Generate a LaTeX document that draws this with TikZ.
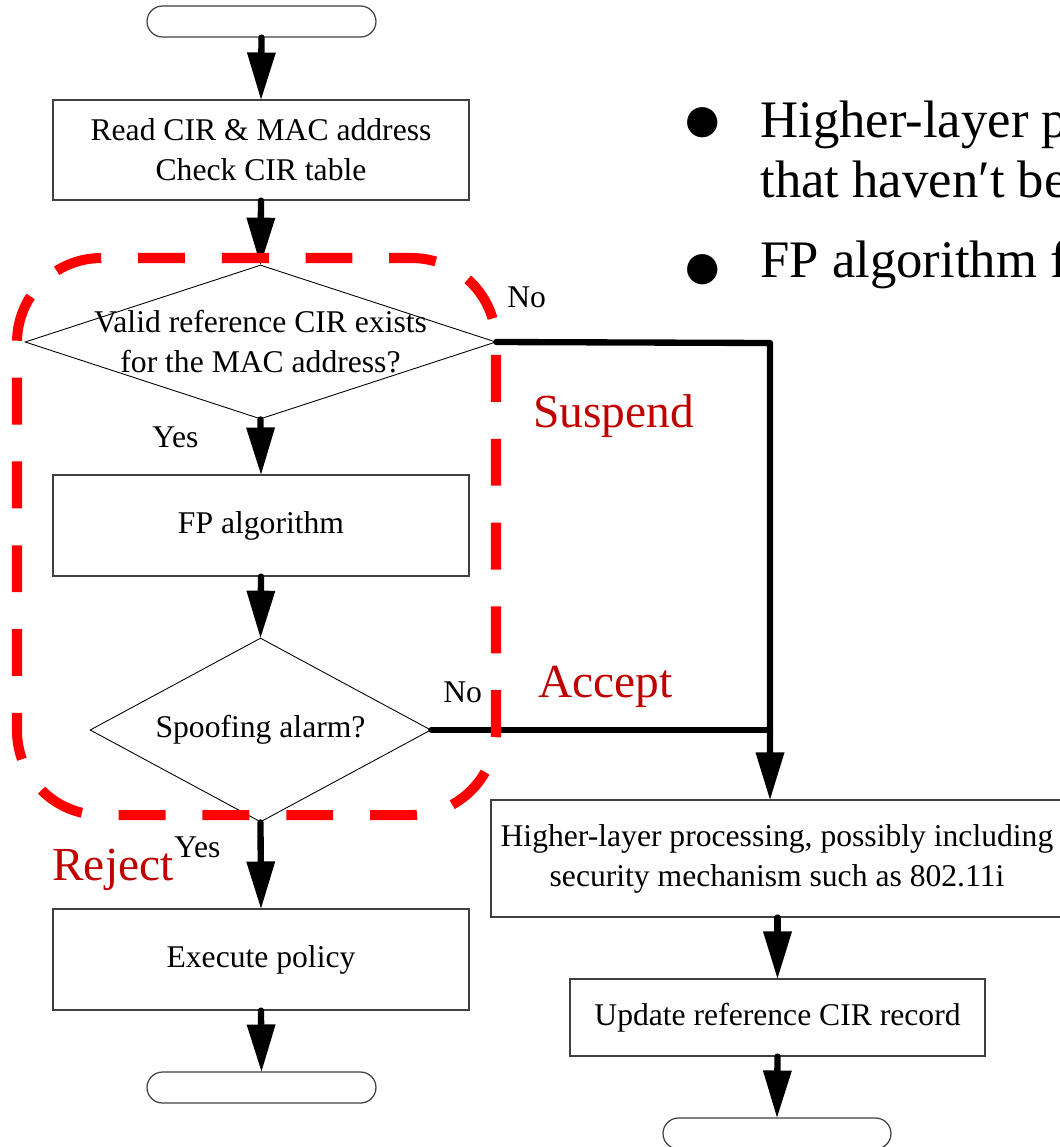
\documentclass[tikz,border=0pt]{standalone}
\usepackage{fontspec}
\setmainfont{Liberation Serif}
\usetikzlibrary{arrows.meta,shapes.geometric}

\definecolor{alertred}{RGB}{192,0,0}
\definecolor{zonered}{RGB}{255,0,0}

\begin{document}
\begin{tikzpicture}[x=0.02cm,y=-0.02cm,
  every node/.style={font=\fontsize{18}{22.8}\selectfont},
  box/.style={draw=black!75, line width=0.7pt, minimum width=8.32cm, minimum height=2.02cm, inner sep=0pt, align=center},
  terminal/.style={draw=black!75, line width=0.7pt, rounded corners=0.31cm, minimum width=4.58cm, minimum height=0.62cm, inner sep=0pt},
  decision/.style={draw=black, line width=0.5pt, diamond, inner sep=0pt},
  flow/.style={line width=3.6pt, line cap=round, line join=round, -{Triangle[length=26.7pt,width=16.5pt,line width=0pt]}},
  link/.style={line width=3.6pt, line cap=round},
  answer/.style={anchor=base west, inner sep=0pt},
  tag/.style={anchor=base west, inner sep=0pt, font=\fontsize{27}{32}\selectfont, text=alertred},
  point/.style={anchor=base west, inner sep=0pt, font=\fontsize{30}{34.1}\selectfont},
  dot/.style={inner sep=0pt, font=\fontsize{40}{40}\selectfont},
  zone/.style={draw=zonered, line width=5.7pt, dash pattern=on 26.7pt off 21pt, dash phase=19.9pt, rounded corners=48pt}
]
% page
\fill[white] (0,0) rectangle (1060,1147);
\useasboundingbox (0,0) rectangle (1060,1147);

% main column
\node[terminal] (start) at (261.5,21.5) {};
\node[box, minimum height=2.0cm] (read) at (261,150) {Read CIR \& MAC address\\Check CIR table};
\node[decision, minimum width=9.42cm, minimum height=3.08cm] (q1) at (260.5,342) {};
\node[align=center, inner sep=0pt] (q1text) at (q1.center) {Valid reference CIR exists\\for the MAC address?};
\node[box] (fp) at (261,525.5) {FP algorithm};
\node[decision, minimum width=6.82cm, minimum height=3.68cm] (q2) at (260.5,730) {};
\node[inner sep=0pt] (q2text) at (q2.center) {Spoofing alarm?};
\node[box] (policy) at (261,959.5) {Execute policy};
\node[terminal] (endL) at (261.5,1087.5) {};

% accept branch
\node[box, minimum width=11.44cm, minimum height=2.34cm] (higher) at (777,858.5)
  {Higher-layer processing, possibly including\\security mechanism such as 802.11i};
\node[box, minimum width=8.3cm, minimum height=1.54cm] (update) at (777.5,1017.5) {Update reference CIR record};
\node[terminal, minimum width=4.56cm] (endR) at (777,1133.5) {};

% connectors
\draw[flow] (start.south) -- (read.north);
\draw[flow] (read.south) -- (q1.north);
\draw[flow] (q1.south) -- (fp.north);
\draw[flow] (fp.south) -- (q2.north);
\draw[flow] (q2.south) -- (policy.north);
\draw[flow] (policy.south) -- (endL.north);
\coordinate (turn) at (770,343);
\draw[flow] (q1.east) -- (turn) -- (turn |- higher.north);
\draw[link] (q2.east) -- (q2.east -| turn);
\draw[flow] (higher.south -| update) -- (update.north);
\draw[flow] (update.south) -- (endR.north);

% branch answers
\node[answer] (no1) at (507,307) {No};
\node[answer] (yes1) at (152,447) {Yes};
\node[answer] (no2) at (443,702) {No};
\node[answer] (yes2) at (174,857) {Yes};

% outcome tags
\node[tag] (suspend) at (533,427) {Suspend};
\node[tag] (accept) at (538,697) {Accept};
\node[tag] (reject) at (52,880) {Reject};

% notes
\node[dot] (b1) at (703,125) {●};
\node[point] (p1) at (760,137) {Higher-layer p};
\node[point] (p1b) at (760,197) {that haven′t be};
\node[dot] (b2) at (703,272) {●};
\node[point] (p2) at (760,277) {FP algorithm f};

% detection zone
\draw[zone] (256,258) -- (496,258) -- (496,815) -- (17,815) -- (17,258) -- cycle;
\end{tikzpicture}
\end{document}
